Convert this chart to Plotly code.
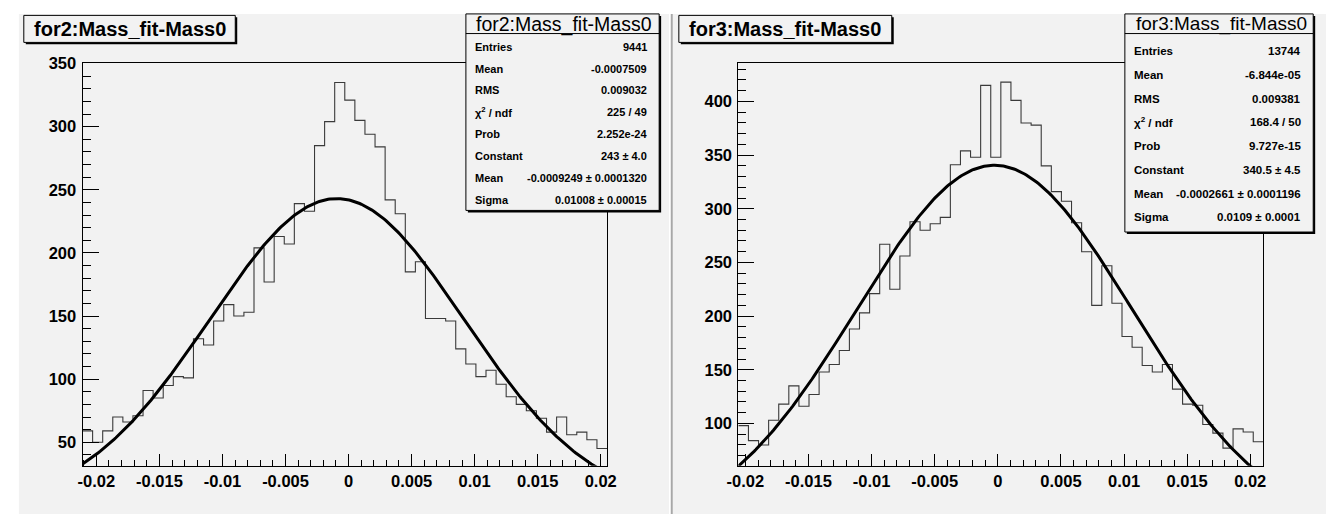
import numpy as np
import plotly.graph_objects as go

W, H = 1336, 514

# ---- histogram contents (52 bins, width 0.0008) ----
bin_width = 0.0008

for2_xmin = -0.0211
for2_counts = [59, 50, 59, 70, 66, 71, 91, 85, 95, 102, 101, 132, 127, 146, 159, 150,
               153, 204, 177, 213, 207, 239, 233, 285, 304, 335, 321, 305, 294, 284,
               242, 231, 185, 193, 148, 148, 146, 124, 112, 102, 107, 96, 86, 80, 75,
               69, 58, 70, 56, 58, 52, 45]

for3_xmin = -0.02056
for3_counts = [98, 84, 80, 103, 118, 135, 116, 127, 148, 155, 168, 188, 203, 221, 267,
               225, 256, 288, 280, 286, 292, 341, 354, 348, 415, 348, 418, 401, 380,
               378, 340, 316, 307, 287, 260, 210, 247, 212, 181, 171, 154, 148, 155,
               132, 118, 117, 99, 91, 77, 95, 92, 83]

# ---- gaussian fit parameters ----
for2_fit = {"constant": 243.0, "mean": -0.0009249, "sigma": 0.01008}
for3_fit = {"constant": 340.5, "mean": -0.0002661, "sigma": 0.0109}

# ---- axis ranges ----
for2_yrange = [31.3, 350.4]
for3_yrange = [60.5, 435.8]

# ---- tick labels ----
x_tickvals = [-0.02, -0.015, -0.01, -0.005, 0, 0.005, 0.01, 0.015, 0.02]
x_ticktext = ["-0.02", "-0.015", "-0.01", "-0.005", "0", "0.005", "0.01", "0.015", "0.02"]

# ---- titles and statistics boxes ----
for2_title = "for2:Mass_fit-Mass0"
for3_title = "for3:Mass_fit-Mass0"
for2_stats = [("Entries", "9441"), ("Mean", "-0.0007509"), ("RMS", "0.009032"),
              ("χ<sup>2</sup> / ndf", "225 / 49"), ("Prob", "2.252e-24"),
              ("Constant", "243 ± 4.0"), ("Mean", "-0.0009249 ± 0.0001320"),
              ("Sigma", "0.01008 ± 0.00015")]
for3_stats = [("Entries", "13744"), ("Mean", "-6.844e-05"), ("RMS", "0.009381"),
              ("χ<sup>2</sup> / ndf", "168.4 / 50"), ("Prob", "9.727e-15"),
              ("Constant", "340.5 ± 4.5"), ("Mean", "-0.0002661 ± 0.0001196"),
              ("Sigma", "0.0109 ± 0.0001")]

BG = "#f2f2f2"
FONT = "Liberation Sans"


def px(x):
    return x / W


def py(y):
    return 1 - y / H


def step_xy(xmin, counts):
    edges = [xmin + i * bin_width for i in range(len(counts) + 1)]
    return edges, list(counts) + [counts[-1]]


def gauss_xy(p, xmin, xmax):
    xs = np.linspace(xmin, xmax, 300)
    ys = p["constant"] * np.exp(-0.5 * ((xs - p["mean"]) / p["sigma"]) ** 2)
    return xs, ys


fig = go.Figure()

panels = [
    dict(xmin=for2_xmin, counts=for2_counts, fit=for2_fit, xa="x", ya="y"),
    dict(xmin=for3_xmin, counts=for3_counts, fit=for3_fit, xa="x2", ya="y2"),
]
for p in panels:
    ex, ey = step_xy(p["xmin"], p["counts"])
    fig.add_trace(go.Scatter(x=ex, y=ey, mode="lines", line_shape="hv",
                             line=dict(color="#3a3a3a", width=1.1),
                             xaxis=p["xa"], yaxis=p["ya"], hoverinfo="skip",
                             showlegend=False))
    fx, fy = gauss_xy(p["fit"], p["xmin"], ex[-1])
    fig.add_trace(go.Scatter(x=fx, y=fy, mode="lines",
                             line=dict(color="black", width=3),
                             xaxis=p["xa"], yaxis=p["ya"], hoverinfo="skip",
                             showlegend=False))

tickfont = dict(family=FONT, size=16.5, color="black", weight="bold")


def xaxis_cfg(dom, rng, anchor):
    return dict(domain=dom, range=rng, anchor=anchor, showgrid=False, zeroline=False,
                showline=True, linecolor="black", linewidth=1, mirror=True,
                ticks="inside", ticklen=12, tickwidth=1, tickcolor="black",
                tickmode="array", tickvals=x_tickvals, ticktext=x_ticktext,
                tickfont=tickfont,
                minor=dict(ticks="inside", ticklen=6, tickwidth=1, tickcolor="black",
                           tickmode="linear", tick0=0, dtick=0.001, showgrid=False))


def yaxis_cfg(dom, rng, anchor):
    return dict(domain=dom, range=rng, anchor=anchor, showgrid=False, zeroline=False,
                showline=True, linecolor="black", linewidth=1, mirror=True,
                ticks="inside", ticklen=16, tickwidth=1, tickcolor="black",
                tickmode="linear", tick0=0, dtick=50, tickfont=tickfont,
                ticklabelstandoff=2,
                minor=dict(ticks="inside", ticklen=8, tickwidth=1, tickcolor="black",
                           tickmode="linear", tick0=0, dtick=10, showgrid=False))


ydom = [py(465), py(55)]
for2_xr = [for2_xmin, for2_xmin + bin_width * len(for2_counts)]
for3_xr = [for3_xmin, for3_xmin + bin_width * len(for3_counts)]

shapes = []
annotations = []

# canvas pads and divider
shapes.append(dict(type="rect", xref="paper", yref="paper", layer="below",
                   x0=px(7), x1=px(668), y0=py(514), y1=py(5),
                   fillcolor=BG, line=dict(width=0)))
shapes.append(dict(type="rect", xref="paper", yref="paper", layer="below",
                   x0=px(672), x1=px(1336), y0=py(514), y1=py(5),
                   fillcolor=BG, line=dict(width=0)))
shapes.append(dict(type="line", xref="paper", yref="paper", layer="below",
                   x0=px(670.8), x1=px(670.8), y0=py(514), y1=py(5),
                   line=dict(color="#a8a8a8", width=2)))


def add_box(x0, y0, x1, y1):
    # drop shadow then box
    shapes.append(dict(type="rect", xref="paper", yref="paper", layer="above",
                       x0=px(x0 + 2), x1=px(x1 + 2), y0=py(y1 + 2), y1=py(y0 + 2),
                       fillcolor="black", line=dict(width=0)))
    shapes.append(dict(type="rect", xref="paper", yref="paper", layer="above",
                       x0=px(x0), x1=px(x1), y0=py(y1), y1=py(y0),
                       fillcolor=BG, line=dict(color="black", width=1)))


def add_title(text, x0, x1, y0=6.5, y1=34):
    add_box(x0, y0, x1, y1)
    annotations.append(dict(text=text, xref="paper", yref="paper",
                            x=px((x0 + x1) / 2), y=py((y0 + y1) / 2),
                            xanchor="center", yanchor="middle", showarrow=False,
                            font=dict(family=FONT, size=20, color="black", weight="bold")))


def add_stats(title, rows, x0, x1, y_bottom, first_row, row_step, size, title_size):
    add_box(x0, 5, x1, y_bottom)
    shapes.append(dict(type="line", xref="paper", yref="paper", layer="above",
                       x0=px(x0), x1=px(x1), y0=py(25), y1=py(25),
                       line=dict(color="black", width=1)))
    annotations.append(dict(text=title, xref="paper", yref="paper",
                            x=px((x0 + x1) / 2 + 2), y=py(15.5),
                            xanchor="center", yanchor="middle", showarrow=False,
                            font=dict(family=FONT, size=title_size, color="black")))
    for i, (lab, val) in enumerate(rows):
        yy = first_row + i * row_step
        annotations.append(dict(text=lab, xref="paper", yref="paper",
                                x=px(x0 + 7), y=py(yy), xanchor="left", yanchor="middle",
                                showarrow=False,
                                font=dict(family=FONT, size=size, color="black", weight="bold")))
        annotations.append(dict(text=val, xref="paper", yref="paper",
                                x=px(x1 - 10), y=py(yy), xanchor="right", yanchor="middle",
                                showarrow=False,
                                font=dict(family=FONT, size=size, color="black", weight="bold")))


add_title(for2_title, 12, 227)
add_title(for3_title, 678, 894.5)
add_stats(for2_title, for2_stats, 461.5, 658, 205, 38.3, 22.3, 11, 19.5)
add_stats(for3_title, for3_stats, 1131.5, 1323, 227, 42.7, 24.2, 11.5, 19)

fig.update_layout(
    width=W, height=H, margin=dict(l=0, r=0, t=0, b=0),
    paper_bgcolor="white", plot_bgcolor=BG, showlegend=False,
    xaxis=xaxis_cfg([px(71.7), px(605)], for2_xr, "y"),
    yaxis=yaxis_cfg(ydom, for2_yrange, "x"),
    xaxis2=xaxis_cfg([px(738.5), px(1272.3)], for3_xr, "y2"),
    yaxis2=yaxis_cfg(ydom, for3_yrange, "x2"),
    shapes=shapes, annotations=annotations,
)

fig.write_html("out.html")
